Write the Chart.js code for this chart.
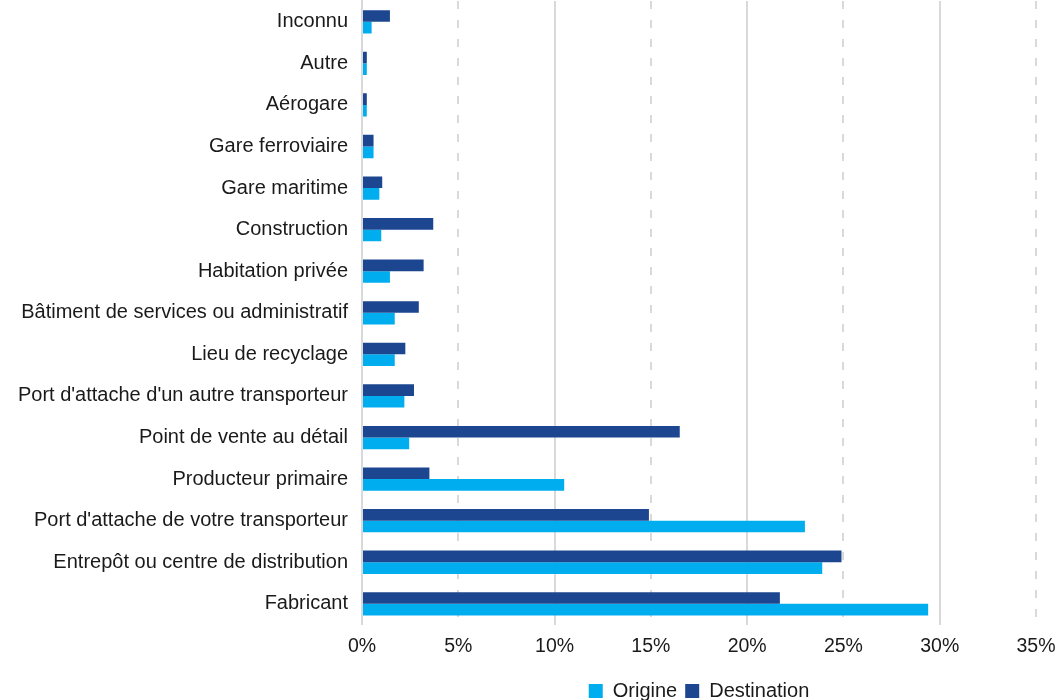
<!DOCTYPE html>
<html>
<head>
<meta charset="utf-8">
<script src="https://cdn.jsdelivr.net/npm/chart.js@4"></script>
<style>
  html, body { margin: 0; padding: 0; background: #fff; }
  #wrap { position: relative; width: 1058px; height: 700px; }
</style>
</head>
<body>
<div id="wrap"><canvas id="lieux"></canvas></div>
<script>
const categories = [
  "Inconnu",
  "Autre",
  "Aérogare",
  "Gare ferroviaire",
  "Gare maritime",
  "Construction",
  "Habitation privée",
  "Bâtiment de services ou administratif",
  "Lieu de recyclage",
  "Port d'attache d'un autre transporteur",
  "Point de vente au détail",
  "Producteur primaire",
  "Port d'attache de votre transporteur",
  "Entrepôt ou centre de distribution",
  "Fabricant"
];
const origine = [0.5, 0.25, 0.25, 0.6, 0.9, 1.0, 1.45, 1.7, 1.7, 2.2, 2.45, 10.5, 23.0, 23.9, 29.4];
const destination = [1.45, 0.25, 0.25, 0.6, 1.05, 3.7, 3.2, 2.95, 2.25, 2.7, 16.5, 3.5, 14.9, 24.9, 21.7];
const xTicks = [0, 5, 10, 15, 20, 25, 30, 35];

const FONT = "'Liberation Sans', Arial, sans-serif";
const GRID = "#d9d9d9";

// centre the legend under the plot area and push it a bit lower
const legendShift = {
  id: "legendShift",
  afterLayout(chart) {
    const l = chart.legend;
    const off = (chart.chartArea.left + chart.chartArea.right) / 2 - (l.left + l.right) / 2;
    l.left += off;
    l.right += off;
    l.top += 11;
    l.bottom += 11;
  }
};

new Chart(document.getElementById("lieux"), {
  type: "bar",
  data: {
    labels: categories,
    datasets: [
      { label: "Destination", data: destination, backgroundColor: "#1d4690" },
      { label: "Origine", data: origine, backgroundColor: "#00aeef" }
    ]
  },
  options: {
    indexAxis: "y",
    responsive: true,
    maintainAspectRatio: false,
    animation: false,
    categoryPercentage: 0.56,
    barPercentage: 1.0,
    layout: { padding: { top: 1, right: 22, bottom: 0, left: 0 } },
    plugins: {
      tooltip: { enabled: false },
      legend: {
        position: "bottom",
        reverse: true,
        labels: {
          boxWidth: 14,
          boxHeight: 14,
          padding: 8,
          color: "#1a1a1a",
          font: { family: FONT, size: 20 }
        }
      }
    },
    scales: {
      x: {
        min: 0,
        max: 35,
        afterBuildTicks: s => { s.ticks = xTicks.map(v => ({ value: v })); },
        afterFit: s => { s.paddingLeft = 0; s.paddingRight = 0; s.height -= 6; },
        ticks: {
          padding: 10,
          color: "#1a1a1a",
          font: { family: FONT, size: 19.5 },
          callback: v => v + "%"
        },
        grid: { color: GRID, lineWidth: 2, drawTicks: false },
        border: {
          display: false,
          dash: ctx => (ctx.tick && ctx.tick.value % 10 === 5) ? [8, 11] : []
        }
      },
      y: {
        afterFit: s => { s.width = 362; s.paddingTop = 0; s.paddingBottom = 0; },
        ticks: {
          padding: 14,
          color: "#1a1a1a",
          font: { family: FONT, size: 20 }
        },
        grid: { display: false, drawTicks: false },
        border: { display: true, color: GRID, width: 2 }
      }
    }
  },
  plugins: [legendShift]
});
</script>
</body>
</html>
